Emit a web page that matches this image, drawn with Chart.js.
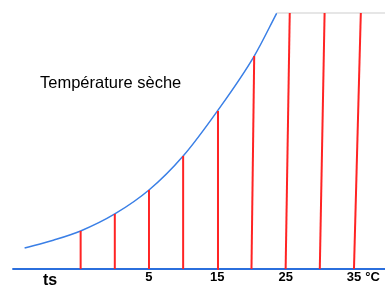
<!DOCTYPE html>
<html lang="fr">
<head>
<meta charset="utf-8">
<title>Température sèche</title>
<script src="https://cdn.jsdelivr.net/npm/chart.js@4"></script>
<style>
    body { margin: 0; background: #fff; }
    #chart { display: block; }
</style>
</head>
<body>
<canvas id="chart" width="385" height="285"></canvas>
<script>
// Saturation curve (temperature in °C, humidity)
const curveTemps = [-13.2, -9, -5, 0, 5, 10, 15, 20.4, 23.7];
const curveValues = [1.64, 2.25, 2.97, 4.3, 6.17, 8.83, 12.34, 16.64, 20];

// Dry bulb lines: foot on the axis, head on the curve or on the top edge
const lineFootTemps = [-5, 0, 5, 10, 15, 20, 25, 30, 35];
const lineHeadTemps = [-5, 0, 5, 10, 15.1, 20.4, 25.6, 30.7, 36];
const lineHeadValues = [2.97, 4.3, 6.17, 8.83, 12.34, 16.64, 20, 20, 20];

// Tick labels under the axis
const tickTemps = [5, 15, 25, 35];
const tickLabels = ['5', '15', '25', '35'];

const topValue = 20;

const redLines = lineFootTemps.map((t, i) => ({
    data: [{ x: t, y: 0 }, { x: lineHeadTemps[i], y: lineHeadValues[i] }],
    borderColor: '#ff2424',
    borderWidth: 2,
    pointRadius: 0,
    showLine: true
}));

const textPlugin = {
    id: 'labels',
    afterDraw(chart) {
        const ctx = chart.ctx;
        const xs = chart.scales.x;
        const ys = chart.scales.y;
        ctx.save();
        ctx.fillStyle = '#000';
        ctx.textBaseline = 'middle';

        ctx.font = '16.5px "Liberation Sans", Arial, sans-serif';
        ctx.textAlign = 'left';
        ctx.fillText('Température sèche', 40, 83);

        ctx.font = 'bold 13px "Liberation Sans", Arial, sans-serif';
        ctx.textAlign = 'center';
        const labelY = ys.getPixelForValue(-0.65);
        tickTemps.forEach((t, i) => {
            ctx.fillText(tickLabels[i], xs.getPixelForValue(t), labelY);
        });
        const last = xs.getPixelForValue(tickTemps[tickTemps.length - 1]);
        ctx.textAlign = 'left';
        ctx.fillText('°C', last + ctx.measureText('35').width / 2 + 4, labelY);

        ctx.font = 'bold 16px "Liberation Sans", Arial, sans-serif';
        ctx.textAlign = 'left';
        ctx.fillText('ts', 43, 281);
        ctx.restore();
    }
};

new Chart(document.getElementById('chart'), {
    type: 'scatter',
    data: {
        datasets: [
            ...redLines,
            {
                // top border
                data: [{ x: 23.7, y: topValue }, { x: 40, y: topValue }],
                borderColor: '#dedede',
                borderWidth: 1.5,
                pointRadius: 0,
                showLine: true
            },
            {
                // axis
                data: [{ x: -15, y: 0 }, { x: 40, y: 0 }],
                borderColor: '#2b6fdd',
                borderWidth: 2,
                pointRadius: 0,
                showLine: true
            },
            {
                data: curveTemps.map((t, i) => ({ x: t, y: curveValues[i] })),
                borderColor: '#3a7fe6',
                borderWidth: 1.5,
                pointRadius: 0,
                showLine: true,
                cubicInterpolationMode: 'monotone'
            }
        ]
    },
    options: {
        responsive: false,
        animation: false,
        layout: { padding: 0 },
        scales: {
            x: { type: 'linear', display: false, min: -16.8, max: 39.54 },
            y: { type: 'linear', display: false, min: -1.25, max: 21.02 }
        },
        plugins: {
            legend: { display: false },
            tooltip: { enabled: false }
        }
    },
    plugins: [textPlugin]
});
</script>
</body>
</html>
